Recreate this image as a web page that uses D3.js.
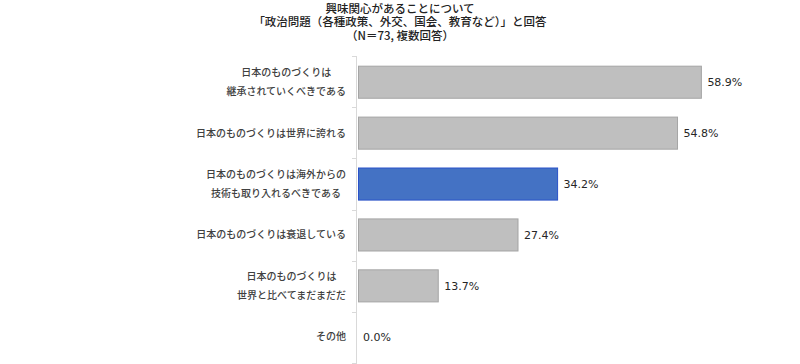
<!DOCTYPE html>
<html>
<head>
<meta charset="utf-8">
<script src="https://cdn.jsdelivr.net/npm/d3@7"></script>
<style>
  body { margin: 0; background: #fff; }
  svg { display: block; }
</style>
</head>
<body>
<div id="chart"></div>
<script>
const titleLines = [
  "興味関心があることについて",
  "「政治問題（各種政策、外交、国会、教育など）」と回答",
  "（N＝73, 複数回答）"
];
const categories = [
  ["日本のものづくりは", "継承されていくべきである"],
  ["日本のものづくりは世界に誇れる"],
  ["日本のものづくりは海外からの", "技術も取り入れるべきである"],
  ["日本のものづくりは衰退している"],
  ["日本のものづくりは", "世界と比べてまだまだだ"],
  ["その他"]
];
const values = [58.9, 54.8, 34.2, 27.4, 13.7, 0.0];
const highlightIndex = 2;

const width = 800, height = 364;
const plotLeft = 358, plotTop = 56, plotBottom = 363;
const labelRight = 346;

const svg = d3.select("#chart")
  .append("svg")
  .attr("width", width)
  .attr("height", height);

// Title
svg.append("g")
  .selectAll("text")
  .data(titleLines)
  .join("text")
  .attr("x", 400)
  .attr("y", (d, i) => 8.5 + i * 13.5)
  .attr("dy", "0.35em")
  .attr("text-anchor", "middle")
  .style("font-family", "'Noto Sans CJK JP', sans-serif")
  .style("font-size", "11.5px")
  .style("font-weight", 500)
  .style("fill", "#222")
  .text(d => d);

const x = d3.scaleLinear()
  .domain([0, 70])
  .range([plotLeft, plotLeft + 407.5]);

const y = d3.scaleBand()
  .domain(d3.range(categories.length))
  .range([plotTop, plotBottom])
  .paddingInner(0.37)
  .paddingOuter(0.2);

// Axis line with ticks between categories
const boundaries = d3.range(categories.length + 1).map(i => plotTop + i * (plotBottom - plotTop) / categories.length);

svg.append("line")
  .attr("x1", plotLeft - 1.5)
  .attr("x2", plotLeft - 1.5)
  .attr("y1", plotTop)
  .attr("y2", height)
  .style("stroke", "#d9d9d9")
  .style("stroke-width", 1);

svg.append("g")
  .selectAll("line")
  .data(boundaries)
  .join("line")
  .attr("x1", plotLeft - 6)
  .attr("x2", plotLeft - 1.5)
  .attr("y1", d => Math.round(d) + 0.5)
  .attr("y2", d => Math.round(d) + 0.5)
  .style("stroke", "#d9d9d9");

// Bars
svg.append("g")
  .selectAll("rect")
  .data(values)
  .join("rect")
  .attr("x", x(0) + 0.5)
  .attr("y", (d, i) => y(i))
  .attr("width", d => Math.max(0, x(d) - x(0)))
  .attr("height", y.bandwidth())
  .style("fill", (d, i) => i === highlightIndex ? "#4472c4" : "#bfbfbf")
  .style("stroke", (d, i) => i === highlightIndex ? "#2a52c9" : "#a5a5a5")
  .style("stroke-width", 1)
  .style("display", d => d > 0 ? null : "none");

// Value labels
svg.append("g")
  .selectAll("text")
  .data(values)
  .join("text")
  .attr("x", d => x(d) + (d > 0 ? 6.5 : 5))
  .attr("y", (d, i) => y(i) + y.bandwidth() / 2)
  .attr("dy", "0.35em")
  .style("font-family", "'DejaVu Sans', sans-serif")
  .style("font-size", "11px")
  .style("fill", "#262626")
  .text(d => d.toFixed(1) + "%");

// Category labels: multi-line blocks centred on their widest line, right edge at labelRight
const catTexts = svg.append("g")
  .selectAll("text")
  .data(categories)
  .join("text")
  .attr("text-anchor", "middle")
  .style("font-family", "'Noto Sans CJK JP', sans-serif")
  .style("font-size", "10px")
  .style("font-weight", 500)
  .style("fill", "#404040");

catTexts.selectAll("tspan")
  .data((d, i) => d.map((line, j) => ({ line, j, n: d.length, i })))
  .join("tspan")
  .attr("y", d => y(d.i) + y.bandwidth() / 2 + (d.j - (d.n - 1) / 2) * 19)
  .attr("dy", "0.35em")
  .text(d => d.line);

catTexts.each(function () {
  const spans = d3.select(this).selectAll("tspan");
  let maxW = 0;
  spans.each(function () { maxW = Math.max(maxW, this.getComputedTextLength()); });
  spans.attr("x", labelRight - maxW / 2);
});
</script>
</body>
</html>
